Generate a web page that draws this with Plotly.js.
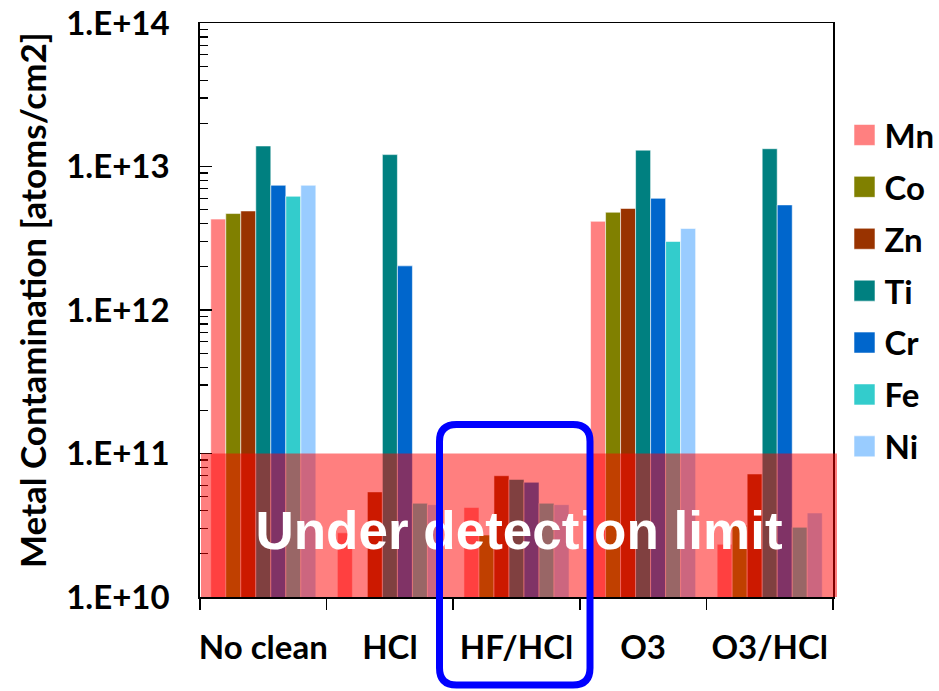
<!DOCTYPE html>
<html>
<head>
<meta charset="utf-8">
<script src="https://cdn.plot.ly/plotly-3.0.1.min.js"></script>
<style>html,body{margin:0;padding:0;background:#fff;}#chart{width:939px;height:691px;}</style>
</head>
<body>
<div id="chart"></div>
<script>
// ---- data ----
const categories = ['No clean', 'HCl', 'HF/HCl', 'O3', 'O3/HCl'];
const metals = ['Mn', 'Co', 'Zn', 'Ti', 'Cr', 'Fe', 'Ni'];
const Mn = [4.3e12, 2.8e10, 4.2e10, 4.15e12, 2.33e10];
const Co = [4.7e12, 1.0e10, 2.7e10, 4.8e12, 3.16e10];
const Zn = [4.9e12, 5.4e10, 7.0e10, 5.1e12, 7.2e10];
const Ti = [1.39e13, 1.21e13, 6.6e10, 1.30e13, 1.33e13];
const Cr = [7.4e12, 2.03e12, 6.3e10, 6.0e12, 5.4e12];
const Fe = [6.2e12, 4.5e10, 4.5e10, 3.0e12, 3.06e10];
const Ni = [7.4e12, 4.4e10, 4.4e10, 3.7e12, 3.85e10];
const yTickVals = [1e10, 1e11, 1e12, 1e13, 1e14];
const yTickText = ['1.E+10', '1.E+11', '1.E+12', '1.E+13', '1.E+14'];
const detectLimitLabel = 'Under detection limit';
const yTitle = 'Metal Contamination [atoms/cm2]';

// ---- style ----
const colors = {Mn:'#FF8080', Co:'#808000', Zn:'#993300', Ti:'#008080', Cr:'#0066CC', Fe:'#33CCCC', Ni:'#99CCFF'};
const series = {Mn, Co, Zn, Ti, Cr, Fe, Ni};
const FONT = 'Lato, "Open Sans", sans-serif';
const W = 939, H = 691;
const ML = 200, MR = 106, MT = 23, MB = 94;
const PW = W - ML - MR, PH = H - MT - MB;
const px = x => (x - ML) / PW;
const py = y => (H - MB - y) / PH;

const traces = metals.map(m => ({
  type: 'bar',
  name: m,
  x: categories,
  y: series[m],
  legendgroup: m,
  marker: {color: colors[m], line: {color: 'rgba(255,255,255,0.55)', width: 1}}
}));

const minorVals = [];
for (let d = 10; d < 14; d++) for (let k = 2; k <= 9; k++) minorVals.push(k * Math.pow(10, d));

// blue rounded rectangle (pixel geometry → paper)
const bl = 439.5, br = 590, bt = 424.5, bb = 685, rr = 17;
const rx = rr / PW, ry = rr / PH;
const L = px(bl), R = px(br), T = py(bt), B = py(bb);
const bluePath = `M${L+rx},${T} L${R-rx},${T} Q${R},${T} ${R},${T-ry} L${R},${B+ry} Q${R},${B} ${R-rx},${B} L${L+rx},${B} Q${L},${B} ${L},${B+ry} L${L},${T-ry} Q${L},${T} ${L+rx},${T} Z`;

const layout = {
  width: W, height: H,
  margin: {l: ML, r: MR, t: MT, b: MB, autoexpand: false},
  paper_bgcolor: '#fff', plot_bgcolor: '#fff',
  barmode: 'group', bargap: 0.17, bargroupgap: 0,
  showlegend: true,
  legend: {
    x: px(844.5), xanchor: 'left', y: py(107), yanchor: 'top',
    font: {family: FONT, size: 33, color: '#000', weight: 'bold'},
    traceorder: 'grouped', tracegroupgap: 6, bgcolor: 'rgba(0,0,0,0)',
    borderwidth: 0
  },
  xaxis: {
    type: 'category', tickangle: 0,
    showline: true, linecolor: '#000', linewidth: 1.5, mirror: true,
    ticks: 'outside', tickson: 'boundaries', ticklen: 11, tickcolor: '#000', tickwidth: 1.5,
    tickfont: {family: FONT, size: 33, color: '#000', weight: 'bold'},
    ticklabelstandoff: 21,
    showgrid: false, zeroline: false, fixedrange: true
  },
  yaxis: {
    type: 'log', range: [10, 14],
    tickmode: 'array', tickvals: yTickVals, ticktext: yTickText,
    showline: true, linecolor: '#000', linewidth: 1.8, mirror: true,
    ticks: 'inside', ticklen: 12, tickcolor: '#000', tickwidth: 1.5,
    minor: {tickmode: 'array', tickvals: minorVals, ticks: 'inside', ticklen: 8, tickcolor: '#000', tickwidth: 1.2, showgrid: false},
    tickfont: {family: FONT, size: 33, color: '#000', weight: 'bold'},
    ticklabelstandoff: 22,
    showgrid: false, zeroline: false
  },
  annotations: [
    {
      text: yTitle, textangle: -90, showarrow: false,
      xref: 'paper', yref: 'paper', x: px(32), y: py(300), xanchor: 'center', yanchor: 'middle',
      font: {family: FONT, size: 35, color: '#000', weight: 'bold'}
    }
  ],
  shapes: [
    {
      type: 'rect', xref: 'paper', yref: 'paper',
      x0: px(201), x1: px(837), y0: 0, y1: 0.25,
      fillcolor: 'rgba(255,0,0,0.5)', line: {width: 0}, layer: 'above',
      label: {text: detectLimitLabel, textposition: 'middle center',
        font: {family: '"Liberation Sans", Arial, sans-serif', size: 53, color: '#fff', weight: 'bold'}}
    },
    {
      type: 'path', xref: 'paper', yref: 'paper', path: bluePath,
      line: {color: '#0000FF', width: 7}, layer: 'above'
    }
  ]
};

Plotly.newPlot('chart', traces, layout, {displayModeBar: false, staticPlot: true}).then(() => {
  document.querySelectorAll('.legend .legendpoints path').forEach(p => {
    p.setAttribute('d', 'M10.5,10.5H-10.5V-10.5H10.5Z');
    p.setAttribute('transform', 'translate(20,0)');
  });
});
</script>
</body>
</html>
